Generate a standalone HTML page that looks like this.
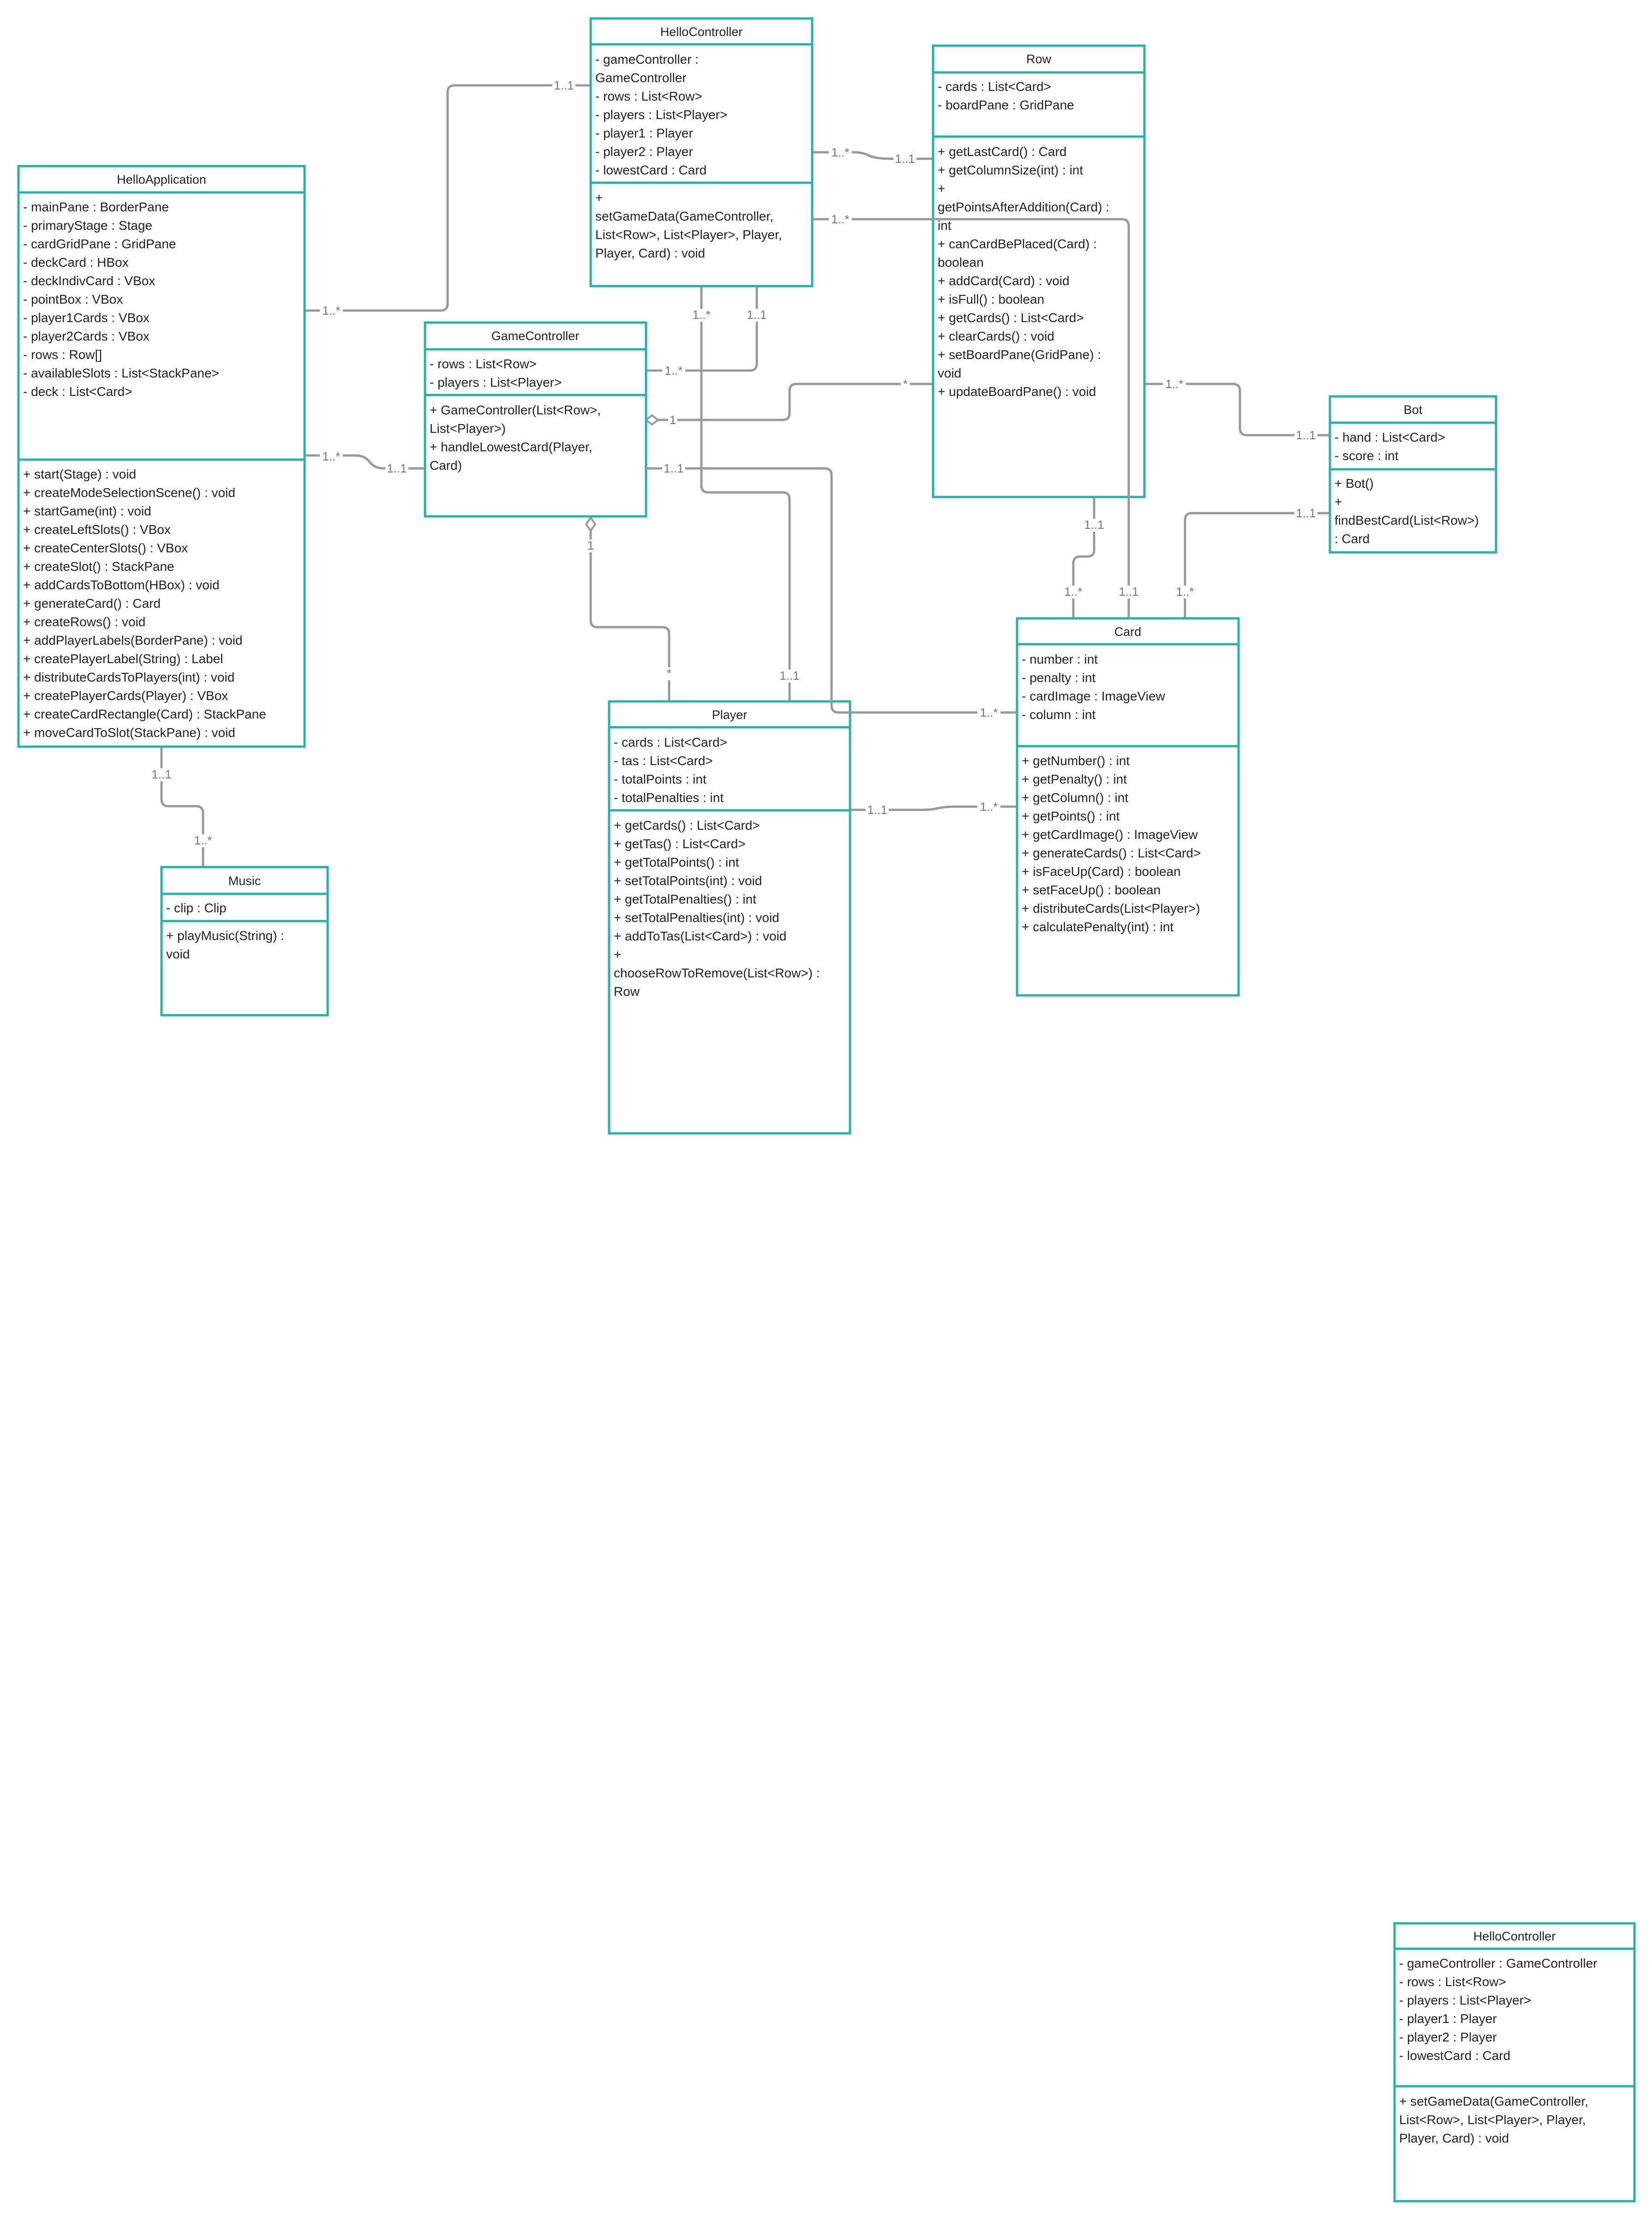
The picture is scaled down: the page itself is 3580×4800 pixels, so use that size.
<!DOCTYPE html>
<html><head><meta charset="utf-8"><style>
html,body{margin:0;padding:0;background:#fff}
svg{display:block}
.b{fill:#fff;stroke:#27b0ad;stroke-width:5}
.s{stroke:#27b0ad;stroke-width:5}
.t{font-family:"Liberation Sans",sans-serif;font-size:28px;fill:#222}
.h{font-family:"Liberation Sans",sans-serif;font-size:27px;fill:#222;text-anchor:middle}
.c{fill:none;stroke:#999;stroke-width:5;stroke-linejoin:round}
.l{font-family:"Liberation Sans",sans-serif;font-size:26px;fill:#777;text-anchor:middle}
.lb rect{fill:#fff}
</style></head><body>
<svg width="3580" height="4800" viewBox="0 0 3580 4800" xmlns="http://www.w3.org/2000/svg">
<!-- connectors -->
<path class="c" d="M660 673 H955 Q970 673 970 658 V200 Q970 185 985 185 H1280"/>
<path class="c" d="M660 987 H770 Q790 987 800 1000 Q812 1015 830 1015 H921"/>
<path class="c" d="M1520 620 V1052 Q1520 1067 1535 1067 H1696 Q1711 1067 1711 1082 V1526"/>
<path class="c" d="M1640 620 V788 Q1640 803 1625 803 H1400"/>
<path class="c" d="M1420 910 H1696 Q1711 910 1711 895 V847 Q1711 832 1726 832 H2022"/>
<path class="c" d="M1760 330 H1852 Q1870 330 1885 338 Q1900 344 1930 344 H2022"/>
<path class="c" d="M2371 1077 V1192 Q2371 1206 2356 1206 H2341 Q2326 1206 2326 1221 V1340"/>
<path class="c" d="M2480 832 H2672 Q2687 832 2687 847 V928 Q2687 943 2702 943 H2882"/>
<path class="c" d="M2882 1112 H2583 Q2568 1112 2568 1127 V1340"/>
<path class="c" d="M1280 1150 V1344 Q1280 1359 1295 1359 H1435 Q1450 1359 1450 1374 V1520"/>
<path class="c" d="M350 1618 V1732 Q350 1747 365 1747 H425 Q440 1747 440 1762 V1879"/>
<path class="c" d="M1842 1755 H2000 Q2020 1755 2035 1751 Q2050 1748 2070 1748 H2204"/>
<!-- diamonds -->
<path d="M1400 910 L1413 900 L1426 910 L1413 920 Z" fill="#fff" stroke="#999" stroke-width="4"/>
<path d="M1280 1122 L1290 1136 L1280 1150 L1270 1136 Z" fill="#fff" stroke="#999" stroke-width="4"/>

<!-- HelloController -->
<rect class="b" x="1280" y="40" width="480" height="580"/>
<line class="s" x1="1280" y1="96" x2="1760" y2="96"/><line class="s" x1="1280" y1="396" x2="1760" y2="396"/>
<text class="h" x="1520" y="78">HelloController</text>
<text class="t" x="1290" y="138">- gameController :<tspan x="1290" dy="40">GameController</tspan><tspan x="1290" dy="40">- rows : List&lt;Row&gt;</tspan><tspan x="1290" dy="40">- players : List&lt;Player&gt;</tspan><tspan x="1290" dy="40">- player1 : Player</tspan><tspan x="1290" dy="40">- player2 : Player</tspan><tspan x="1290" dy="40">- lowestCard : Card</tspan></text>
<text class="t" x="1290" y="438">+<tspan x="1290" dy="40">setGameData(GameController,</tspan><tspan x="1290" dy="40">List&lt;Row&gt;, List&lt;Player&gt;, Player,</tspan><tspan x="1290" dy="40">Player, Card) : void</tspan></text>

<!-- HelloApplication -->
<rect class="b" x="40" y="360" width="620" height="1258"/>
<line class="s" x1="40" y1="417" x2="660" y2="417"/><line class="s" x1="40" y1="996" x2="660" y2="996"/>
<text class="h" x="350" y="398">HelloApplication</text>
<text class="t" x="50" y="458">- mainPane : BorderPane<tspan x="50" dy="40">- primaryStage : Stage</tspan><tspan x="50" dy="40">- cardGridPane : GridPane</tspan><tspan x="50" dy="40">- deckCard : HBox</tspan><tspan x="50" dy="40">- deckIndivCard : VBox</tspan><tspan x="50" dy="40">- pointBox : VBox</tspan><tspan x="50" dy="40">- player1Cards : VBox</tspan><tspan x="50" dy="40">- player2Cards : VBox</tspan><tspan x="50" dy="40">- rows : Row[]</tspan><tspan x="50" dy="40">- availableSlots : List&lt;StackPane&gt;</tspan><tspan x="50" dy="40">- deck : List&lt;Card&gt;</tspan></text>
<text class="t" x="50" y="1037">+ start(Stage) : void<tspan x="50" dy="40">+ createModeSelectionScene() : void</tspan><tspan x="50" dy="40">+ startGame(int) : void</tspan><tspan x="50" dy="40">+ createLeftSlots() : VBox</tspan><tspan x="50" dy="40">+ createCenterSlots() : VBox</tspan><tspan x="50" dy="40">+ createSlot() : StackPane</tspan><tspan x="50" dy="40">+ addCardsToBottom(HBox) : void</tspan><tspan x="50" dy="40">+ generateCard() : Card</tspan><tspan x="50" dy="40">+ createRows() : void</tspan><tspan x="50" dy="40">+ addPlayerLabels(BorderPane) : void</tspan><tspan x="50" dy="40">+ createPlayerLabel(String) : Label</tspan><tspan x="50" dy="40">+ distributeCardsToPlayers(int) : void</tspan><tspan x="50" dy="40">+ createPlayerCards(Player) : VBox</tspan><tspan x="50" dy="40">+ createCardRectangle(Card) : StackPane</tspan><tspan x="50" dy="40">+ moveCardToSlot(StackPane) : void</tspan></text>

<!-- GameController -->
<rect class="b" x="921" y="699" width="479" height="420"/>
<line class="s" x1="921" y1="757" x2="1400" y2="757"/><line class="s" x1="921" y1="856" x2="1400" y2="856"/>
<text class="h" x="1160" y="737">GameController</text>
<text class="t" x="931" y="798">- rows : List&lt;Row&gt;<tspan x="931" dy="40">- players : List&lt;Player&gt;</tspan></text>
<text class="t" x="931" y="898">+ GameController(List&lt;Row&gt;,<tspan x="931" dy="40">List&lt;Player&gt;)</tspan><tspan x="931" dy="40">+ handleLowestCard(Player,</tspan><tspan x="931" dy="40">Card)</tspan></text>

<!-- Row -->
<rect class="b" x="2022" y="99" width="458" height="978"/>
<line class="s" x1="2022" y1="157" x2="2480" y2="157"/><line class="s" x1="2022" y1="296" x2="2480" y2="296"/>
<text class="h" x="2251" y="137">Row</text>
<text class="t" x="2032" y="197">- cards : List&lt;Card&gt;<tspan x="2032" dy="40">- boardPane : GridPane</tspan></text>
<text class="t" x="2032" y="338">+ getLastCard() : Card<tspan x="2032" dy="40">+ getColumnSize(int) : int</tspan><tspan x="2032" dy="40">+</tspan><tspan x="2032" dy="40">getPointsAfterAddition(Card) :</tspan><tspan x="2032" dy="40">int</tspan><tspan x="2032" dy="40">+ canCardBePlaced(Card) :</tspan><tspan x="2032" dy="40">boolean</tspan><tspan x="2032" dy="40">+ addCard(Card) : void</tspan><tspan x="2032" dy="40">+ isFull() : boolean</tspan><tspan x="2032" dy="40">+ getCards() : List&lt;Card&gt;</tspan><tspan x="2032" dy="40">+ clearCards() : void</tspan><tspan x="2032" dy="40">+ setBoardPane(GridPane) :</tspan><tspan x="2032" dy="40">void</tspan><tspan x="2032" dy="40">+ updateBoardPane() : void</tspan></text>

<!-- Bot -->
<rect class="b" x="2882" y="859" width="360" height="338"/>
<line class="s" x1="2882" y1="916" x2="3242" y2="916"/><line class="s" x1="2882" y1="1017" x2="3242" y2="1017"/>
<text class="h" x="3062" y="897">Bot</text>
<text class="t" x="2892" y="957">- hand : List&lt;Card&gt;<tspan x="2892" dy="40">- score : int</tspan></text>
<text class="t" x="2892" y="1057">+ Bot()<tspan x="2892" dy="40">+</tspan><tspan x="2892" dy="40">findBestCard(List&lt;Row&gt;)</tspan><tspan x="2892" dy="40">: Card</tspan></text>

<!-- Card -->
<rect class="b" x="2204" y="1340" width="480" height="817"/>
<line class="s" x1="2204" y1="1396" x2="2684" y2="1396"/><line class="s" x1="2204" y1="1617" x2="2684" y2="1617"/>
<text class="h" x="2444" y="1378">Card</text>
<text class="t" x="2214" y="1438">- number : int<tspan x="2214" dy="40">- penalty : int</tspan><tspan x="2214" dy="40">- cardImage : ImageView</tspan><tspan x="2214" dy="40">- column : int</tspan></text>
<text class="t" x="2214" y="1658">+ getNumber() : int<tspan x="2214" dy="40">+ getPenalty() : int</tspan><tspan x="2214" dy="40">+ getColumn() : int</tspan><tspan x="2214" dy="40">+ getPoints() : int</tspan><tspan x="2214" dy="40">+ getCardImage() : ImageView</tspan><tspan x="2214" dy="40">+ generateCards() : List&lt;Card&gt;</tspan><tspan x="2214" dy="40">+ isFaceUp(Card) : boolean</tspan><tspan x="2214" dy="40">+ setFaceUp() : boolean</tspan><tspan x="2214" dy="40">+ distributeCards(List&lt;Player&gt;)</tspan><tspan x="2214" dy="40">+ calculatePenalty(int) : int</tspan></text>

<!-- Player -->
<rect class="b" x="1320" y="1520" width="522" height="936"/>
<line class="s" x1="1320" y1="1576" x2="1842" y2="1576"/><line class="s" x1="1320" y1="1756" x2="1842" y2="1756"/>
<text class="h" x="1581" y="1558">Player</text>
<text class="t" x="1330" y="1618">- cards : List&lt;Card&gt;<tspan x="1330" dy="40">- tas : List&lt;Card&gt;</tspan><tspan x="1330" dy="40">- totalPoints : int</tspan><tspan x="1330" dy="40">- totalPenalties : int</tspan></text>
<text class="t" x="1330" y="1798">+ getCards() : List&lt;Card&gt;<tspan x="1330" dy="40">+ getTas() : List&lt;Card&gt;</tspan><tspan x="1330" dy="40">+ getTotalPoints() : int</tspan><tspan x="1330" dy="40">+ setTotalPoints(int) : void</tspan><tspan x="1330" dy="40">+ getTotalPenalties() : int</tspan><tspan x="1330" dy="40">+ setTotalPenalties(int) : void</tspan><tspan x="1330" dy="40">+ addToTas(List&lt;Card&gt;) : void</tspan><tspan x="1330" dy="40">+</tspan><tspan x="1330" dy="40">chooseRowToRemove(List&lt;Row&gt;) :</tspan><tspan x="1330" dy="40">Row</tspan></text>

<!-- Music -->
<rect class="b" x="350" y="1879" width="360" height="321"/>
<line class="s" x1="350" y1="1937" x2="710" y2="1937"/><line class="s" x1="350" y1="1996" x2="710" y2="1996"/>
<text class="h" x="530" y="1918">Music</text>
<text class="t" x="360" y="1977">- clip : Clip</text>
<text class="t" x="360" y="2037">+ playMusic(String) :<tspan x="360" dy="40">void</tspan></text>

<!-- HelloController 2 -->
<rect class="b" x="3022" y="4168" width="520" height="602"/>
<line class="s" x1="3022" y1="4223" x2="3542" y2="4223"/><line class="s" x1="3022" y1="4521" x2="3542" y2="4521"/>
<text class="h" x="3282" y="4205">HelloController</text>
<text class="t" x="3032" y="4264">- gameController : GameController<tspan x="3032" dy="40">- rows : List&lt;Row&gt;</tspan><tspan x="3032" dy="40">- players : List&lt;Player&gt;</tspan><tspan x="3032" dy="40">- player1 : Player</tspan><tspan x="3032" dy="40">- player2 : Player</tspan><tspan x="3032" dy="40">- lowestCard : Card</tspan></text>
<text class="t" x="3032" y="4563">+ setGameData(GameController,<tspan x="3032" dy="40">List&lt;Row&gt;, List&lt;Player&gt;, Player,</tspan><tspan x="3032" dy="40">Player, Card) : void</tspan></text>

<!-- connectors drawn over boxes -->
<path class="c" d="M1400 1015 H1787 Q1802 1015 1802 1030 V1529 Q1802 1544 1817 1544 H2204"/>
<path class="c" d="M1760 475 H2431 Q2446 475 2446 490 V1340"/>

<!-- label backgrounds -->
<g class="lb">
<rect x="693" y="660" width="50" height="28"/>
<rect x="1197" y="172" width="50" height="28"/>
<rect x="693" y="976" width="50" height="28"/>
<rect x="835" y="1002" width="50" height="28"/>
<rect x="1495" y="669" width="50" height="28"/>
<rect x="1615" y="669" width="50" height="28"/>
<rect x="1435" y="790" width="50" height="28"/>
<rect x="1448" y="897" width="20" height="28"/>
<rect x="1952" y="819" width="20" height="28"/>
<rect x="1435" y="1002" width="50" height="28"/>
<rect x="2118" y="1531" width="50" height="28"/>
<rect x="1796" y="317" width="50" height="28"/>
<rect x="1936" y="331" width="50" height="28"/>
<rect x="1796" y="462" width="50" height="28"/>
<rect x="2421" y="1269" width="50" height="28"/>
<rect x="2346" y="1124" width="50" height="28"/>
<rect x="2301" y="1269" width="50" height="28"/>
<rect x="2520" y="819" width="50" height="28"/>
<rect x="2805" y="930" width="50" height="28"/>
<rect x="2805" y="1099" width="50" height="28"/>
<rect x="2543" y="1269" width="50" height="28"/>
<rect x="1270" y="1169" width="20" height="28"/>
<rect x="1440" y="1446" width="20" height="28"/>
<rect x="1686" y="1451" width="50" height="28"/>
<rect x="325" y="1665" width="50" height="28"/>
<rect x="415" y="1808" width="50" height="28"/>
<rect x="1876" y="1742" width="50" height="28"/>
<rect x="2118" y="1735" width="50" height="28"/>
</g>
<!-- labels -->
<text class="l" x="718" y="682">1..*</text>
<text class="l" x="1222" y="194">1..1</text>
<text class="l" x="718" y="998">1..*</text>
<text class="l" x="860" y="1024">1..1</text>
<text class="l" x="1520" y="691">1..*</text>
<text class="l" x="1640" y="691">1..1</text>
<text class="l" x="1460" y="812">1..*</text>
<text class="l" x="1458" y="919">1</text>
<text class="l" x="1962" y="841">*</text>
<text class="l" x="1460" y="1024">1..1</text>
<text class="l" x="2143" y="1553">1..*</text>
<text class="l" x="1821" y="339">1..*</text>
<text class="l" x="1961" y="353">1..1</text>
<text class="l" x="1821" y="484">1..*</text>
<text class="l" x="2446" y="1291">1..1</text>
<text class="l" x="2371" y="1146">1..1</text>
<text class="l" x="2326" y="1291">1..*</text>
<text class="l" x="2545" y="841">1..*</text>
<text class="l" x="2830" y="952">1..1</text>
<text class="l" x="2830" y="1121">1..1</text>
<text class="l" x="2568" y="1291">1..*</text>
<text class="l" x="1280" y="1191">1</text>
<text class="l" x="1450" y="1468">*</text>
<text class="l" x="1711" y="1473">1..1</text>
<text class="l" x="350" y="1687">1..1</text>
<text class="l" x="440" y="1830">1..*</text>
<text class="l" x="1901" y="1764">1..1</text>
<text class="l" x="2143" y="1757">1..*</text>
</svg>
</body></html>
